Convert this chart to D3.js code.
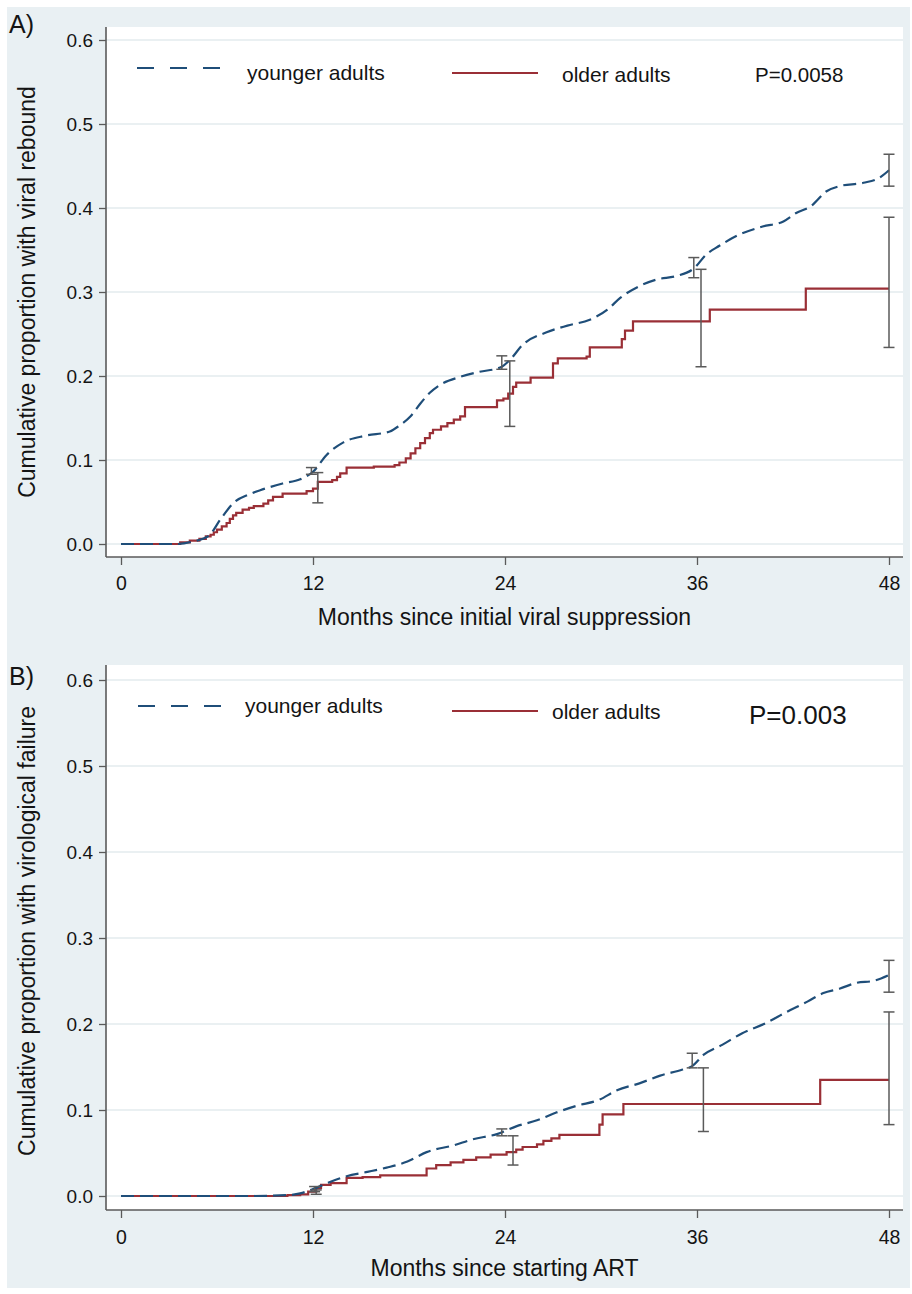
<!DOCTYPE html>
<html><head><meta charset="utf-8">
<script src="https://cdn.jsdelivr.net/npm/d3@7"></script>
<style>
body{margin:0;background:#fff}
svg{display:block}
text{font-family:"Liberation Sans",Arial,Helvetica,sans-serif;fill:#141414}
</style>
</head><body>
<svg id="chart" width="912" height="1294"></svg>
<script>
// ---------------- data ----------------
const monthTicks = [0, 12, 24, 36, 48];
const proportionTicks = [0, 0.1, 0.2, 0.3, 0.4, 0.5, 0.6];
const seriesLabels = ["younger adults", "older adults"];
const panelLabels = ["A)", "B)"];
const xTitles = ["Months since initial viral suppression", "Months since starting ART"];
const yTitles = ["Cumulative proportion with viral rebound", "Cumulative proportion with virological failure"];
const pValues = ["P=0.0058", "P=0.003"];

// Panel A: months, cumulative proportion
const youngerA = [[0,0],[3.5,0],[4.5,0.003],[5.5,0.010],[6.2,0.029],[7.1,0.050],[8.0,0.059],[8.7,0.064],[10.1,0.072],[11.2,0.077],[12.0,0.086],[12.85,0.106],[13.9,0.121],[15.3,0.129],[16.8,0.134],[17.4,0.141],[18.1,0.152],[18.7,0.167],[19.3,0.180],[19.9,0.189],[21.2,0.199],[22.4,0.205],[23.7,0.210],[24.3,0.219],[25.1,0.237],[26.6,0.252],[27.9,0.260],[29.3,0.267],[30.4,0.279],[31.2,0.293],[32.4,0.307],[33.5,0.315],[34.7,0.319],[35.8,0.328],[36.6,0.345],[37.4,0.355],[38.5,0.367],[40.1,0.378],[41.4,0.384],[42.2,0.394],[43.1,0.402],[44.1,0.420],[44.9,0.426],[46.4,0.430],[47.4,0.436],[48,0.445]];
const olderA = [[0,0],[3.7,0.002],[4.3,0.004],[4.9,0.006],[5.3,0.009],[5.6,0.011],[5.8,0.014],[6.0,0.017],[6.3,0.021],[6.6,0.025],[6.8,0.030],[7.0,0.034],[7.2,0.037],[7.6,0.041],[8.0,0.043],[8.3,0.045],[8.9,0.048],[9.2,0.052],[9.5,0.056],[10.1,0.060],[11.6,0.063],[12.0,0.066],[12.3,0.074],[13.2,0.076],[13.5,0.080],[13.7,0.084],[14.1,0.091],[15.8,0.092],[17.1,0.094],[17.4,0.097],[17.8,0.102],[18.1,0.108],[18.4,0.114],[18.7,0.120],[19.0,0.126],[19.3,0.132],[19.5,0.136],[20.0,0.140],[20.4,0.144],[20.8,0.148],[21.2,0.152],[21.5,0.163],[23.5,0.171],[23.9,0.173],[24.2,0.179],[24.5,0.187],[24.7,0.192],[25.6,0.198],[27.0,0.215],[27.3,0.221],[29.1,0.223],[29.3,0.234],[31.3,0.244],[31.5,0.254],[32.0,0.265],[36.8,0.279],[42.8,0.304],[48,0.304]];
// confidence intervals: month, lower, upper
const youngerA_CI = [[11.9,0.083,0.091],[23.8,0.208,0.224],[35.8,0.317,0.341],[48,0.426,0.464]];
const olderA_CI = [[12.3,0.049,0.085],[24.3,0.140,0.218],[36.25,0.211,0.327],[48,0.234,0.389]];

// Panel B
const youngerB = [[0,0],[8.0,0],[10.4,0.001],[11.2,0.003],[12.0,0.008],[12.9,0.015],[14.1,0.023],[15.4,0.028],[16.6,0.033],[17.9,0.040],[19.1,0.051],[20.8,0.059],[22.0,0.066],[23.5,0.072],[24.7,0.081],[26.0,0.088],[27.2,0.097],[28.5,0.105],[29.9,0.112],[31.0,0.123],[32.4,0.131],[33.7,0.140],[35.1,0.147],[35.7,0.151],[36.4,0.164],[37.6,0.176],[38.8,0.189],[40.3,0.201],[41.5,0.213],[42.9,0.226],[43.9,0.236],[44.9,0.241],[46.0,0.248],[47.0,0.250],[48,0.257]];
const olderB = [[0,0],[10.4,0.001],[11.2,0.002],[11.7,0.005],[12.2,0.009],[12.5,0.013],[13.1,0.015],[14.1,0.021],[15.1,0.022],[16.2,0.024],[19.1,0.032],[19.7,0.036],[20.6,0.039],[21.4,0.042],[22.2,0.045],[23.1,0.048],[24.1,0.051],[24.7,0.054],[25.1,0.057],[26.0,0.060],[26.4,0.064],[26.9,0.067],[27.4,0.071],[29.9,0.083],[30.1,0.095],[31.4,0.107],[43.7,0.135],[48,0.135]];
const youngerB_CI = [[12.1,0.005,0.011],[23.8,0.070,0.078],[35.7,0.149,0.166],[48,0.237,0.274]];
const olderB_CI = [[12.2,0.002,0.007],[24.5,0.036,0.070],[36.4,0.075,0.149],[48,0.083,0.214]];

// ---------------- drawing ----------------
const BLUE = "#1f4e79", RED = "#9a2f36", GREY = "#5a5a5a", BG = "#e9f0f3", GRID = "#e3ebee";
const svg = d3.select("#chart");
svg.append("rect").attr("x", 7).attr("y", 7).attr("width", 903).attr("height", 1281).attr("fill", BG);

const panels = [
  {label: panelLabels[0], xTitle: xTitles[0], yTitle: yTitles[0], p: pValues[0],
   younger: youngerA, older: olderA, yCI: youngerA_CI, oCI: olderA_CI,
   top: 27, bottom: 557, y0: 544, y6: 40, labelY: 33, tickY: 590, xTitleY: 625, yTitleC: 292,
   leg: {dashY: 68, dashX: [137, 222], yText: [247, 80], redY: 73, redX: [452, 538], oText: [562, 82], pText: [755, 82], pSize: 20.5}},
  {label: panelLabels[1], xTitle: xTitles[1], yTitle: yTitles[1], p: pValues[1],
   younger: youngerB, older: olderB, yCI: youngerB_CI, oCI: olderB_CI,
   top: 665, bottom: 1210, y0: 1196, y6: 680, labelY: 685, tickY: 1244, xTitleY: 1276, yTitleC: 931,
   leg: {dashY: 706, dashX: [138, 224], yText: [245, 713], redY: 711, redX: [452, 538], oText: [552, 719], pText: [749, 724], pSize: 26}}
];

const x = d3.scaleLinear().domain([0, 48]).range([121, 889]);
const plotLeft = 106, plotRight = 903;

panels.forEach(P => {
  const y = d3.scaleLinear().domain([0, 0.6]).range([P.y0, P.y6]);
  const g = svg.append("g");

  g.append("rect").attr("x", plotLeft).attr("y", P.top).attr("width", plotRight - plotLeft)
    .attr("height", P.bottom - P.top).attr("fill", "#fff");

  // gridlines
  g.selectAll(".grid").data(proportionTicks).join("line")
    .attr("x1", plotLeft).attr("x2", plotRight)
    .attr("y1", d => y(d)).attr("y2", d => y(d))
    .attr("stroke", GRID).attr("stroke-width", 1.6);

  // axes
  const yAxis = d3.axisLeft(y).tickValues(proportionTicks).tickFormat(d3.format(".1f")).tickSize(7).tickSizeOuter(0).tickPadding(6);
  const ya = g.append("g").attr("transform", `translate(${plotLeft},0)`).call(yAxis);
  ya.select(".domain").remove();
  ya.selectAll(".tick line").attr("stroke", GREY).attr("stroke-width", 1.3);
  ya.selectAll(".tick text").attr("font-size", 19).attr("fill", "#141414")
    .attr("font-family", '"Liberation Sans",Arial,sans-serif');

  const xAxis = d3.axisBottom(x).tickValues(monthTicks).tickFormat(d3.format("d")).tickSize(8).tickSizeOuter(0).tickPadding(0);
  const xa = g.append("g").attr("transform", `translate(0,${P.bottom})`).call(xAxis);
  xa.select(".domain").remove();
  xa.selectAll(".tick line").attr("stroke", GREY).attr("stroke-width", 1.3);
  xa.selectAll(".tick text").attr("font-size", 19.5).attr("fill", "#141414")
    .attr("font-family", '"Liberation Sans",Arial,sans-serif')
    .attr("dy", null).attr("y", P.tickY - P.bottom);

  g.append("line").attr("x1", plotLeft).attr("x2", plotLeft).attr("y1", P.top).attr("y2", P.bottom)
    .attr("stroke", GREY).attr("stroke-width", 1.6);
  g.append("line").attr("x1", plotLeft).attr("x2", plotRight).attr("y1", P.bottom).attr("y2", P.bottom)
    .attr("stroke", GREY).attr("stroke-width", 1.6);

  // curves
  const smooth = d3.line().x(d => x(d[0])).y(d => y(d[1])).curve(d3.curveMonotoneX);
  const step = d3.line().x(d => x(d[0])).y(d => y(d[1])).curve(d3.curveStepAfter);

  g.append("path").datum(P.older).attr("d", step).attr("fill", "none")
    .attr("stroke", RED).attr("stroke-width", 2.2);
  g.append("path").datum(P.younger).attr("d", smooth).attr("fill", "none")
    .attr("stroke", BLUE).attr("stroke-width", 2.2).attr("stroke-dasharray", "13,6");

  // confidence intervals
  const cap = 5.5;
  [P.yCI, P.oCI].forEach(ci => {
    const cg = g.append("g").attr("stroke", GREY).attr("stroke-width", 1.5).attr("fill", "none");
    cg.selectAll(".v").data(ci).join("line")
      .attr("x1", d => x(d[0])).attr("x2", d => x(d[0]))
      .attr("y1", d => y(d[1])).attr("y2", d => y(d[2]));
    cg.selectAll(".lo").data(ci).join("line")
      .attr("x1", d => x(d[0]) - cap).attr("x2", d => x(d[0]) + cap)
      .attr("y1", d => y(d[1])).attr("y2", d => y(d[1]));
    cg.selectAll(".hi").data(ci).join("line")
      .attr("x1", d => x(d[0]) - cap).attr("x2", d => x(d[0]) + cap)
      .attr("y1", d => y(d[2])).attr("y2", d => y(d[2]));
  });

  // titles
  g.append("text").attr("x", (plotLeft + plotRight) / 2).attr("y", P.xTitleY)
    .attr("text-anchor", "middle").attr("font-size", 23).text(P.xTitle);
  g.append("text").attr("transform", `translate(35,${P.yTitleC}) rotate(-90)`)
    .attr("text-anchor", "middle").attr("font-size", 23).text(P.yTitle);
  g.append("text").attr("x", 9).attr("y", P.labelY).attr("font-size", 25).text(P.label);

  // legend
  const L = P.leg;
  g.append("line").attr("x1", L.dashX[0]).attr("x2", L.dashX[1]).attr("y1", L.dashY).attr("y2", L.dashY)
    .attr("stroke", BLUE).attr("stroke-width", 2.2).attr("stroke-dasharray", "17,16");
  g.append("text").attr("x", L.yText[0]).attr("y", L.yText[1]).attr("font-size", 21).text(seriesLabels[0]);
  g.append("line").attr("x1", L.redX[0]).attr("x2", L.redX[1]).attr("y1", L.redY).attr("y2", L.redY)
    .attr("stroke", RED).attr("stroke-width", 2.2);
  g.append("text").attr("x", L.oText[0]).attr("y", L.oText[1]).attr("font-size", 21).text(seriesLabels[1]);
  g.append("text").attr("x", L.pText[0]).attr("y", L.pText[1]).attr("font-size", L.pSize).text(P.p);
});
</script>
</body></html>
